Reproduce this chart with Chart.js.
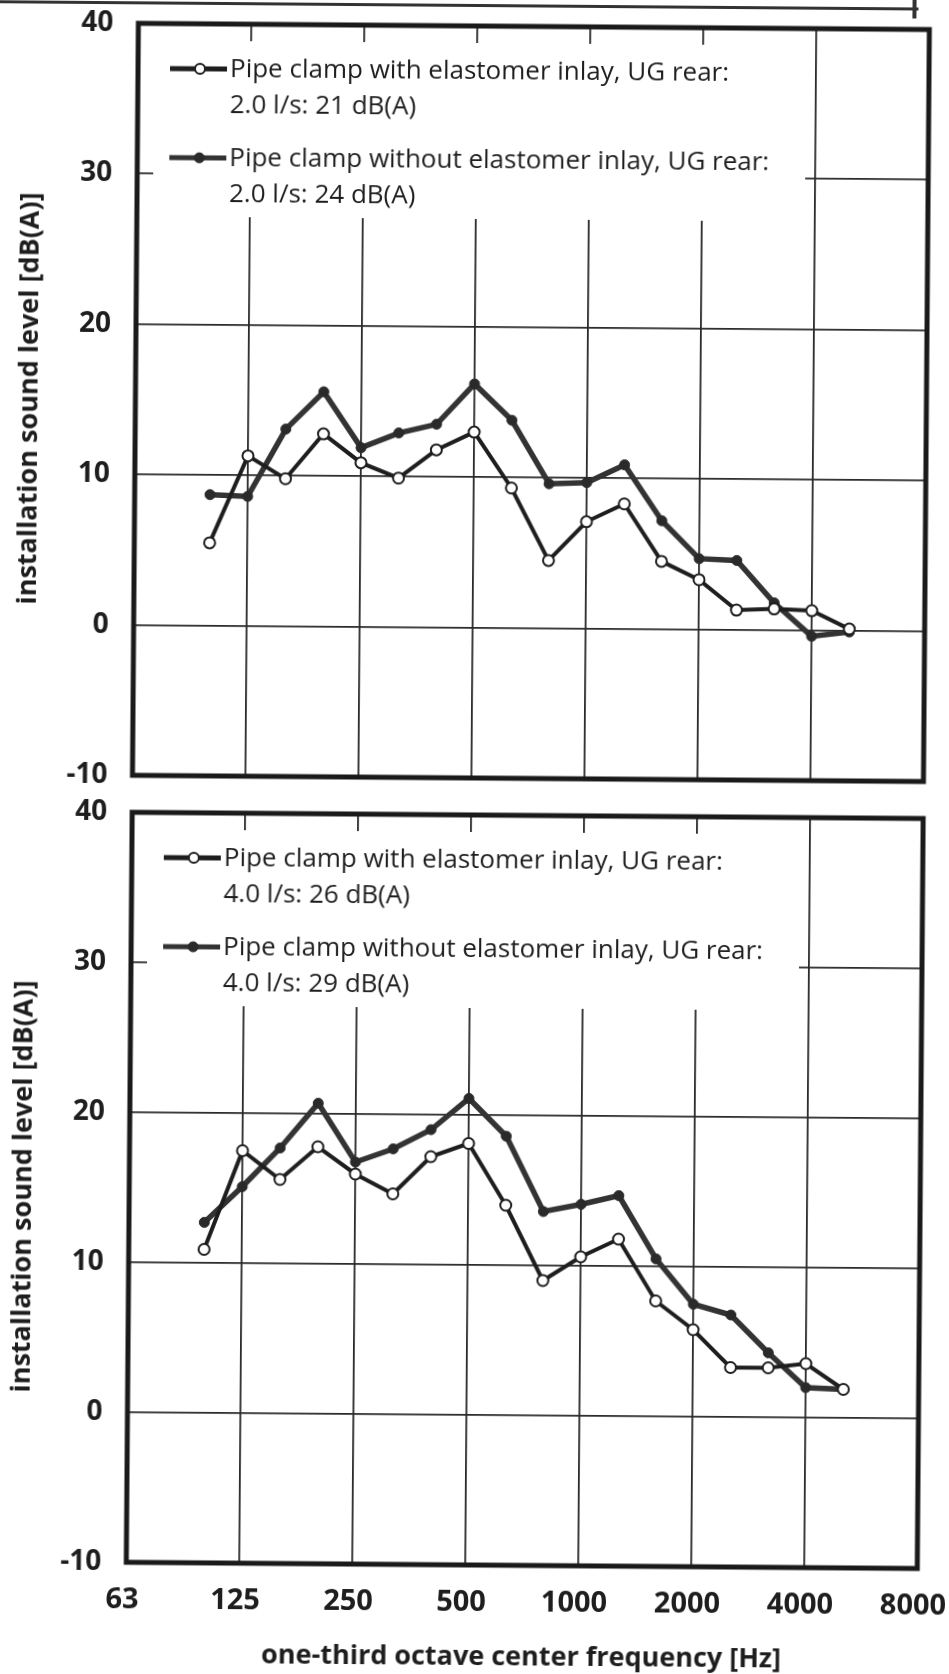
<!DOCTYPE html>
<html>
<head>
<meta charset="utf-8">
<title>Installation sound level</title>
<script src="https://cdn.jsdelivr.net/npm/chart.js@4"></script>
<style>
  html, body { margin: 0; padding: 0; background: #fff; overflow: hidden; }
  #page { position: relative; width: 949px; height: 1674px; transform: rotate(0.45deg); transform-origin: 50% 50%; }
  #page canvas { position: absolute; left: 0; }
  #chart-top { top: 0; }
  #chart-bottom { top: 795px; }
  .scan-edge { position: absolute; background: #333; }
</style>
</head>
<body>
<div id="page">
  <div class="scan-edge" style="left:-20px; top:4px; width:932px; height:3px;"></div>
  <div class="scan-edge" style="left:906px; top:-10px; width:4px; height:25px;"></div>
  <canvas id="chart-top" width="980" height="800"></canvas>
  <canvas id="chart-bottom" width="980" height="879"></canvas>
</div>
<script>
// one-third octave bands shown on the axis, labelled octaves, and the measured bands
const bands = ['63', '80', '100', '125', '160', '200', '250', '315', '400', '500', '630',
    '800', '1000', '1250', '1600', '2000', '2500', '3150', '4000', '5000', '6300', '8000'];
const octaves = ['63', '125', '250', '500', '1000', '2000', '4000', '8000'];
const measured = ['100', '125', '160', '200', '250', '315', '400', '500', '630',
    '800', '1000', '1250', '1600', '2000', '2500', '3150', '4000', '5000'];

// 2.0 l/s
const with20 = [5.5, 11.3, 9.8, 12.8, 10.9, 9.9, 11.8, 13.0, 9.3, 4.5, 7.1, 8.3, 4.5, 3.3, 1.3, 1.4, 1.3, 0.1];
const without20 = [8.7, 8.6, 13.1, 15.6, 11.9, 12.9, 13.5, 16.2, 13.8, 9.6, 9.7, 10.9, 7.2, 4.7, 4.6, 1.8, -0.4, -0.1];
// 4.0 l/s
const with40 = [10.9, 17.5, 15.6, 17.8, 16.0, 14.7, 17.2, 18.1, 14.0, 9.0, 10.6, 11.8, 7.7, 5.8, 3.3, 3.3, 3.6, 1.9];
const without40 = [12.7, 15.1, 17.7, 20.7, 16.8, 17.7, 19.0, 21.1, 18.6, 13.6, 14.1, 14.7, 10.5, 7.5, 6.8, 4.3, 2.0, 1.9];

const names20 = ['Pipe clamp with elastomer inlay, UG rear:\n2.0 l/s: 21 dB(A)',
    'Pipe clamp without elastomer inlay, UG rear:\n2.0 l/s: 24 dB(A)'];
const names40 = ['Pipe clamp with elastomer inlay, UG rear:\n4.0 l/s: 26 dB(A)',
    'Pipe clamp without elastomer inlay, UG rear:\n4.0 l/s: 29 dB(A)'];

const yMin = -10;
const yMax = 40;
const yStep = 10;

const ink = '#1e1e1e';
const gridInk = '#2a2a2a';

Chart.defaults.font.family = '"Open Sans", "Noto Sans", sans-serif';

// white legend box inside the plot, and the heavy frame round the plot
const boxLegend = {
    id: 'boxLegend',
    beforeDatasetsDraw(chart) {
        const { ctx, chartArea: a } = chart;
        ctx.save();
        ctx.fillStyle = '#fff';
        ctx.fillRect(a.left + 16, a.top + 17, 652, 176);
        ctx.font = '26px "Open Sans"';
        ctx.textBaseline = 'middle';
        chart.data.datasets.forEach((ds, i) => {
            const y = a.top + 45 + i * 89;
            ctx.strokeStyle = ds.borderColor;
            ctx.lineWidth = 5;
            ctx.beginPath();
            ctx.moveTo(a.left + 32, y);
            ctx.lineTo(a.left + 89, y);
            ctx.stroke();
            ctx.beginPath();
            ctx.arc(a.left + 62, y, 5, 0, Math.PI * 2);
            ctx.fillStyle = ds.pointBackgroundColor;
            ctx.fill();
            ctx.lineWidth = ds.pointBorderWidth;
            ctx.strokeStyle = ds.pointBorderColor;
            ctx.stroke();
            ctx.fillStyle = ink;
            ds.label.split('\n').forEach((line, j) => {
                ctx.fillText(line, a.left + 92, y + 1 + j * 36);
            });
        });
        ctx.restore();
    },
    afterDatasetsDraw(chart) {
        const { ctx, chartArea: a } = chart;
        ctx.save();
        ctx.lineWidth = 5;
        ctx.strokeStyle = '#1a1a1a';
        ctx.strokeRect(a.left, a.top, a.right - a.left, a.bottom - a.top);
        ctx.restore();
    }
};

function makeChart(id, withVals, withoutVals, names, showX, padding) {
    const toPoints = vals => measured.map((f, i) => ({ x: f, y: vals[i] }));
    return new Chart(document.getElementById(id), {
        type: 'line',
        data: {
            labels: bands,
            datasets: [
                {
                    label: names[0],
                    data: toPoints(withVals),
                    borderColor: ink,
                    borderWidth: 4,
                    pointRadius: 5.5,
                    pointBorderWidth: 2,
                    pointBackgroundColor: '#fff',
                    pointBorderColor: ink
                },
                {
                    label: names[1],
                    data: toPoints(withoutVals),
                    borderColor: '#333',
                    borderWidth: 5.5,
                    pointRadius: 5,
                    pointBorderWidth: 1,
                    pointBackgroundColor: '#2a2a2a',
                    pointBorderColor: '#2a2a2a'
                }
            ]
        },
        options: {
            responsive: false,
            animation: false,
            devicePixelRatio: 1,
            layout: { padding: padding },
            plugins: {
                legend: { display: false },
                tooltip: { enabled: false }
            },
            scales: {
                x: {
                    type: 'category',
                    offset: false,
                    border: { display: false },
                    grid: {
                        drawTicks: false,
                        lineWidth: 1.8,
                        color: c => (c.index > 0 && c.index < bands.length - 1 && octaves.includes(bands[c.index]))
                            ? gridInk : 'rgba(0,0,0,0)'
                    },
                    ticks: {
                        display: showX,
                        autoSkip: false,
                        maxRotation: 0,
                        padding: 20,
                        labelOffset: -4,
                        color: ink,
                        font: { size: 29, weight: 'bold' },
                        callback: (v, i) => octaves.includes(bands[i]) ? bands[i] : ''
                    },
                    title: {
                        display: showX,
                        text: 'one-third octave center frequency [Hz]',
                        color: ink,
                        font: { size: 27, weight: 'bold' },
                        padding: { top: 0, bottom: 0 }
                    },
                    afterFit: s => {
                        s.height = showX ? 109 : 0;
                        s.paddingLeft = 0;
                        s.paddingRight = 0;
                    }
                },
                y: {
                    min: yMin,
                    max: yMax,
                    border: { display: false },
                    grid: { drawTicks: false, lineWidth: 1.8, color: gridInk },
                    ticks: {
                        stepSize: yStep,
                        padding: 25,
                        color: ink,
                        font: { size: 28, weight: 'bold' }
                    },
                    title: {
                        display: true,
                        text: 'installation sound level [dB(A)]',
                        color: ink,
                        font: { size: 27, weight: 'bold' },
                        padding: { top: 10, bottom: 0 }
                    },
                    afterFit: s => {
                        s.width = 132;
                        s.paddingTop = 0;
                        s.paddingBottom = 0;
                    }
                }
            }
        },
        plugins: [boxLegend]
    });
}

makeChart('chart-top', with20, without20, names20, false, { left: 0, top: 26, right: 57, bottom: 22 });
makeChart('chart-bottom', with40, without40, names40, true, { left: 0, top: 20, right: 57, bottom: 0 });
</script>
</body>
</html>
